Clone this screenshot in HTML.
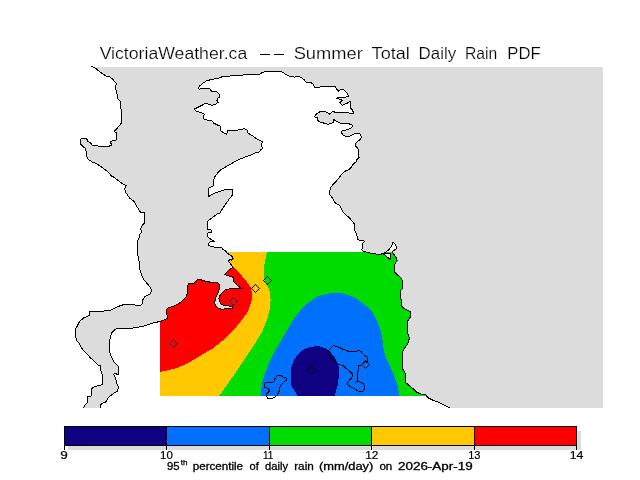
<!DOCTYPE html>
<html><head><meta charset="utf-8"><style>
html,body{margin:0;padding:0;background:#fff;width:640px;height:480px;overflow:hidden}
svg{display:block}
text{font-family:"Liberation Sans", sans-serif}
</style></head><body>
<svg width="640" height="480" viewBox="0 0 640 480">
<defs>
<clipPath id="cf"><rect x="0" y="67" width="603" height="341"/></clipPath>
<clipPath id="cl"><rect x="0" y="66" width="603" height="342"/></clipPath>
<clipPath id="cc"><rect x="160" y="252" width="300" height="144"/></clipPath>
</defs>
<rect width="640" height="480" fill="#fff"/>
<g clip-path="url(#cc)" shape-rendering="crispEdges">
<rect x="160" y="252" width="300" height="144" fill="#00dc00"/>
<path d="M160,252 L266.9,252 L265.6,258.75 L264.4,265 L263.9,274 L264.25,277.75 L266.5,284.5 L269.1,289 L270.25,294.25 L270.6,300.25 L270.25,305.5 L269.5,310 L267.5,318.5 L262.5,331 L255,343.5 L245,358.5 L235,373.5 L226.25,386 L219,396 L160,396 Z" fill="#ffc800"/>
<path d="M160,252 L222,252 L228,262 L233.75,267.5 L237.5,271.25 L240.25,274 L245.5,280 L248.75,284.5 L250.75,287.5 L251.9,292.75 L251.6,300.25 L250,305.5 L248.5,310 L246.5,314 L243.75,317.25 L239.5,323 L235,328.5 L225,338.5 L212.5,348.5 L200,356 L187.5,363.5 L175,368.5 L165,371 L160,371.75 Z" fill="#ff0000"/>
<path d="M261,396 L261.3,388 L262.5,382 L264.5,375 L268.75,363.5 L275,351 L282,339 L289,327 L296,316 L305,305 L317.5,296.5 L330,293.25 L342.5,293.25 L355,297.5 L365,305 L372.5,312.5 L377.5,322 L380.5,330 L382.5,340 L383.75,350 L386,358 L390,366 L393.75,375 L397.5,385 L399.5,396 Z" fill="#0070ff"/>
<path d="M316.25,346.25 L320,346.5 L325.25,348.3 L329.6,351.4 L333.1,355.3 L336.2,360.1 L338.4,364.5 L338.8,369.75 L338.8,377 L338.2,382 L337.5,386 L336,391 L334.5,396 L297,396 L296,392.5 L294.5,390.5 L292.8,388.5 L291,384.75 L290.6,379 L290.5,373.5 L291.2,368 L292.5,363.75 L294.5,359 L297.5,355 L300,352 L305,348.75 L310,347 Z" fill="#100082"/>
<path d="M383.5,254 L390.3,253.2 L390.6,259.8 Z" fill="#fff" stroke="#000" stroke-width="1"/>
</g>
<path clip-path="url(#cf)" d="M91,66 L95,67.75 L98.75,70.9 L102.5,73.75 L106.25,76.25 L109.4,76.5 L112.5,79 L116.25,83.4 L115.6,88.4 L116.9,94 L118.1,99 L120,101.25 L120.6,106.5 L121.25,110.25 L121.5,123 L118.25,126.9 L114.5,131.25 L116.4,133.1 L116.4,140 L113.25,140.6 L110.5,141.5 L111.4,145 L108.9,146.25 L99.5,146.25 L92,145 L90.75,143.1 L87.6,141.25 L86.75,138.75 L82.6,138.5 L80.1,139.4 L80.5,143.75 L83.25,146.9 L85.1,148.1 L86,151.25 L86.4,156.25 L88.25,159.4 L92,161.9 L96.4,163.75 L100.75,166.25 L104.5,169.4 L108.9,172.5 L110.75,175.6 L114.5,177.5 L118.75,181 L123.1,184.1 L126.25,185.4 L124.75,188.5 L125.6,192.25 L130,198.5 L133.75,201 L136.9,206.6 L140.6,212.25 L144.4,212.5 L144,217.25 L144.4,222.9 L141.9,226 L140.6,229.1 L141.9,232.25 L140,233.9 L139.4,237.6 L137.5,240.75 L137.75,247 L137.5,252 L138.5,258.9 L140,265.1 L139.75,268.9 L141.5,274.5 L143.75,279.5 L146.9,283.25 L150,287 L151.6,290.7 L150,293.8 L144.6,296.9 L142.7,300.1 L142.2,304 L139.9,305.5 L132.8,304.75 L124.25,304.4 L119.6,306 L110.2,310.2 L103.9,311 L89.9,311 L89.1,315.7 L83.6,318 L79.7,321.2 L77.4,325.8 L75.5,329 L75,334.4 L76.6,340.7 L78.9,343 L81.3,347.7 L83.6,350.8 L87.5,354.75 L91.4,358.7 L94,361 L97.75,365 L100.5,365.4 L100.25,368.5 L101.5,372.25 L102.5,376 L102.5,384.75 L99,385.4 L92.75,387.25 L91.75,389.1 L91.5,396 L87.75,396.6 L87.5,402.25 L85.9,404.1 L83.4,407.5 L82.5,410 L82,412 L101,412 L100.25,410 L100.25,408 L100.5,404.75 L102.75,403.25 L106.5,401.6 L107.75,398.5 L110.25,396 L113.4,393.5 L117.75,391 L118.4,387.25 L117.1,384.1 L115.9,379.75 L114.6,376 L113.4,374.5 L115.25,373.5 L118.4,374.75 L118.75,366.6 L116.5,364.75 L113.4,361 L110.2,354.75 L109.4,348.5 L109.9,339.1 L111.75,332.9 L114.9,329.75 L118,328.2 L121.1,329 L130.5,328.5 L136.75,327.4 L143,326.3 L149.25,324.3 L155,322.5 L160,321.5 L163.75,320 L168.1,318.1 L166.9,315 L166.25,310 L168.75,307.5 L173.75,306.25 L178.75,303.75 L183.1,300 L186.25,296.9 L187.5,292.5 L188.1,283.75 L190.6,283.1 L193.75,283.75 L195.6,281.25 L197.5,279.4 L200.6,279.75 L205,281 L210,282.1 L217.5,282.6 L219.4,284.4 L219.8,288.2 L218.4,291.9 L217,294.75 L215.6,298.5 L214.7,302.25 L215.2,305 L217.5,307.9 L222.2,309.3 L225.5,308.8 L232.5,309 L233.25,307.9 L232.5,306.5 L228.75,306 L224.1,305.5 L220.8,303.7 L219.4,301.3 L218.9,298.5 L219.8,295.7 L222.2,292.9 L225,290 L229.7,288.7 L237.2,288.2 L241.4,288.2 L237.5,285.6 L234.4,282.5 L233.1,280 L233.75,277.5 L230.6,276.25 L226.9,275.6 L225,274.4 L226.25,272.75 L228.75,270 L231.9,268.1 L232.75,267.5 L231.25,265 L230,263.1 L228.5,261.25 L229.4,259.75 L231.25,260.1 L233.1,259 L232.75,256.75 L230.1,255.25 L226.75,252.6 L225.6,250.75 L222.6,249.6 L221.9,247.6 L214.75,247.15 L211,246.25 L208.75,245.5 L208.4,243.6 L210.25,241.75 L212.5,241 L215.1,241.4 L211.75,239.9 L209.1,238 L207.25,236.1 L208,232.75 L211.4,232.4 L211,230.1 L207.4,229 L207.25,225.4 L207.75,221 L211.25,218.5 L216.9,214.1 L220,212.9 L221.9,209.75 L225.6,204.1 L230,197.9 L232.75,194.75 L232.5,189.75 L230.6,189.1 L226.25,189.1 L221.25,191 L216.9,192.25 L211.25,194.75 L208.5,196.6 L208.5,193.5 L208.1,188.5 L210.6,187.25 L213.1,186 L213.5,181 L214.4,177.25 L216.6,174.25 L219.75,170.5 L226,166.75 L233.5,162.4 L239.75,159.25 L246,156.75 L251,154.9 L254.75,153 L259.75,151.75 L260.4,149.9 L262.25,148.6 L261.6,144.9 L262.25,141.75 L258.5,139.9 L254.75,137.4 L251,134.9 L247.9,133 L247,129.9 L244.1,128.6 L239.75,129.9 L233.5,130.25 L227.9,130.5 L226.6,134.25 L222.9,132.4 L220.4,130.5 L220,126.1 L217.25,124.9 L213.5,123 L212.25,121.1 L208.5,120.5 L204.1,119.25 L203.1,117.25 L204.4,114.1 L201.25,112.5 L195.6,111 L194.4,109.1 L198.1,107.25 L202.5,105 L205.6,103.25 L208.1,104.1 L211.9,105.4 L215.6,104.1 L218.1,102.25 L216.9,100.4 L217.5,98.75 L219.75,96.6 L218.75,93.5 L216.25,91.6 L211.25,91 L210,88.75 L206.25,88.5 L199.4,89.1 L198.1,88.25 L199.4,86.25 L202.5,83.5 L206.25,81 L211.25,79.5 L217.5,78.5 L222.5,76.6 L237.5,75.4 L251.25,74.5 L256,74.25 L259.75,74 L262.25,72.5 L265.4,71.5 L280.4,71.5 L283.5,72.75 L286,74.6 L289.1,76.1 L294.75,77.1 L298.5,76.25 L301.6,77.75 L304.1,79.6 L306,82.1 L311,82.75 L313.5,84.25 L314.2,86.6 L314.75,87.1 L335.3,86.75 L336.7,89.4 L338.6,91.25 L340,89.8 L342.8,89.2 L345.6,91.25 L347.5,93.6 L348.4,96.4 L347,96.9 L338.1,97.6 L336.7,98.3 L340,99.2 L342.3,100.2 L339.8,102.5 L341.4,104.6 L342.8,105.3 L345.6,103.9 L348.4,102.5 L350.3,101.4 L350.8,108.1 L352.7,110.5 L353.6,113.3 L350.3,113.3 L345.6,112.3 L341.9,112.8 L337.2,112.8 L332.5,111.4 L329.7,114.2 L327.8,112.8 L325,111.4 L320.3,111.4 L318.4,112.8 L315.6,114.7 L314.7,117 L317,117.5 L318.4,121.7 L322.8,122.8 L327.5,124.2 L330.8,123.7 L333.1,122.3 L333.6,119.5 L335,120.4 L338.75,122.3 L340.2,123.25 L347.7,123.25 L352.3,125.1 L351.9,127.5 L348.1,129.3 L345.3,130.3 L342.5,130.3 L341.1,131.7 L342.5,134.5 L345.3,136.4 L349.1,136.4 L352.8,134.5 L354.7,133.4 L359.8,133.4 L361.25,136.4 L360.8,139.2 L358.4,140.6 L356.6,142.5 L355.2,144.3 L355.6,146.2 L357.5,148.1 L358.4,149.5 L358.7,156.7 L359.6,157.4 L357.25,158.6 L356.5,161.4 L354.4,163.25 L352.6,165.1 L351.6,167 L349.3,169.3 L346.9,170.3 L344.1,171.7 L341.3,174.5 L339.9,176.8 L337.6,179.2 L335.7,182 L333.3,184.3 L331,187.2 L330.1,189.5 L329.5,192 L329.4,194.3 L332.2,197.6 L334.5,202.3 L336.4,203.7 L339.7,205.6 L341.1,208.4 L342.5,211.2 L345.3,214.5 L348.1,216.6 L350.5,219.2 L352.8,222 L354.7,224.3 L354.7,230.4 L356.6,233.75 L357.5,238.9 L359.4,240.3 L362.2,240.1 L364.5,241.25 L362.7,243.1 L362.2,248.75 L361.25,249.7 L364.1,251.6 L370.2,253 L375.3,253.9 L380,254.6 L385.2,252.5 L389.4,249.2 L391.7,245.9 L393.1,242.2 L395.9,245 L396.4,248.75 L393.6,250.6 L392.2,252 L394,254.4 L395.9,257.2 L397.3,260.5 L395,263.75 L394.1,267.5 L394.5,271.25 L394.75,272.3 L397.6,275.2 L400.8,277.5 L402.25,280.3 L402.7,288.3 L400.8,290.2 L400.6,298.1 L401.5,300 L401.8,306.1 L404.1,308.4 L407.9,310.3 L408.1,310.9 L410.5,311.4 L410.5,317 L408.6,319.4 L407.7,321.25 L407.2,328.75 L407.7,332.5 L409.25,338.1 L408.6,341.9 L406.7,345.2 L404.4,348.4 L403,351.25 L402.5,355 L402.5,368.75 L405,372.5 L405.6,382.5 L409.4,385.6 L413.1,388.75 L416.25,391.9 L420,393.75 L426.25,395 L427.5,397.5 L432.5,400 L437.5,401.9 L443.75,405 L448.75,407.5 L452,410 L452,412 L610,412 L610,60 L91,60 Z" fill="#dcdcdc"/>
<path clip-path="url(#cl)" d="M91,66 L95,67.75 L98.75,70.9 L102.5,73.75 L106.25,76.25 L109.4,76.5 L112.5,79 L116.25,83.4 L115.6,88.4 L116.9,94 L118.1,99 L120,101.25 L120.6,106.5 L121.25,110.25 L121.5,123 L118.25,126.9 L114.5,131.25 L116.4,133.1 L116.4,140 L113.25,140.6 L110.5,141.5 L111.4,145 L108.9,146.25 L99.5,146.25 L92,145 L90.75,143.1 L87.6,141.25 L86.75,138.75 L82.6,138.5 L80.1,139.4 L80.5,143.75 L83.25,146.9 L85.1,148.1 L86,151.25 L86.4,156.25 L88.25,159.4 L92,161.9 L96.4,163.75 L100.75,166.25 L104.5,169.4 L108.9,172.5 L110.75,175.6 L114.5,177.5 L118.75,181 L123.1,184.1 L126.25,185.4 L124.75,188.5 L125.6,192.25 L130,198.5 L133.75,201 L136.9,206.6 L140.6,212.25 L144.4,212.5 L144,217.25 L144.4,222.9 L141.9,226 L140.6,229.1 L141.9,232.25 L140,233.9 L139.4,237.6 L137.5,240.75 L137.75,247 L137.5,252 L138.5,258.9 L140,265.1 L139.75,268.9 L141.5,274.5 L143.75,279.5 L146.9,283.25 L150,287 L151.6,290.7 L150,293.8 L144.6,296.9 L142.7,300.1 L142.2,304 L139.9,305.5 L132.8,304.75 L124.25,304.4 L119.6,306 L110.2,310.2 L103.9,311 L89.9,311 L89.1,315.7 L83.6,318 L79.7,321.2 L77.4,325.8 L75.5,329 L75,334.4 L76.6,340.7 L78.9,343 L81.3,347.7 L83.6,350.8 L87.5,354.75 L91.4,358.7 L94,361 L97.75,365 L100.5,365.4 L100.25,368.5 L101.5,372.25 L102.5,376 L102.5,384.75 L99,385.4 L92.75,387.25 L91.75,389.1 L91.5,396 L87.75,396.6 L87.5,402.25 L85.9,404.1 L83.4,407.5 L82.5,410 L82,412 L101,412 L100.25,410 L100.25,408 L100.5,404.75 L102.75,403.25 L106.5,401.6 L107.75,398.5 L110.25,396 L113.4,393.5 L117.75,391 L118.4,387.25 L117.1,384.1 L115.9,379.75 L114.6,376 L113.4,374.5 L115.25,373.5 L118.4,374.75 L118.75,366.6 L116.5,364.75 L113.4,361 L110.2,354.75 L109.4,348.5 L109.9,339.1 L111.75,332.9 L114.9,329.75 L118,328.2 L121.1,329 L130.5,328.5 L136.75,327.4 L143,326.3 L149.25,324.3 L155,322.5 L160,321.5 L163.75,320 L168.1,318.1 L166.9,315 L166.25,310 L168.75,307.5 L173.75,306.25 L178.75,303.75 L183.1,300 L186.25,296.9 L187.5,292.5 L188.1,283.75 L190.6,283.1 L193.75,283.75 L195.6,281.25 L197.5,279.4 L200.6,279.75 L205,281 L210,282.1 L217.5,282.6 L219.4,284.4 L219.8,288.2 L218.4,291.9 L217,294.75 L215.6,298.5 L214.7,302.25 L215.2,305 L217.5,307.9 L222.2,309.3 L225.5,308.8 L232.5,309 L233.25,307.9 L232.5,306.5 L228.75,306 L224.1,305.5 L220.8,303.7 L219.4,301.3 L218.9,298.5 L219.8,295.7 L222.2,292.9 L225,290 L229.7,288.7 L237.2,288.2 L241.4,288.2 L237.5,285.6 L234.4,282.5 L233.1,280 L233.75,277.5 L230.6,276.25 L226.9,275.6 L225,274.4 L226.25,272.75 L228.75,270 L231.9,268.1 L232.75,267.5 L231.25,265 L230,263.1 L228.5,261.25 L229.4,259.75 L231.25,260.1 L233.1,259 L232.75,256.75 L230.1,255.25 L226.75,252.6 L225.6,250.75 L222.6,249.6 L221.9,247.6 L214.75,247.15 L211,246.25 L208.75,245.5 L208.4,243.6 L210.25,241.75 L212.5,241 L215.1,241.4 L211.75,239.9 L209.1,238 L207.25,236.1 L208,232.75 L211.4,232.4 L211,230.1 L207.4,229 L207.25,225.4 L207.75,221 L211.25,218.5 L216.9,214.1 L220,212.9 L221.9,209.75 L225.6,204.1 L230,197.9 L232.75,194.75 L232.5,189.75 L230.6,189.1 L226.25,189.1 L221.25,191 L216.9,192.25 L211.25,194.75 L208.5,196.6 L208.5,193.5 L208.1,188.5 L210.6,187.25 L213.1,186 L213.5,181 L214.4,177.25 L216.6,174.25 L219.75,170.5 L226,166.75 L233.5,162.4 L239.75,159.25 L246,156.75 L251,154.9 L254.75,153 L259.75,151.75 L260.4,149.9 L262.25,148.6 L261.6,144.9 L262.25,141.75 L258.5,139.9 L254.75,137.4 L251,134.9 L247.9,133 L247,129.9 L244.1,128.6 L239.75,129.9 L233.5,130.25 L227.9,130.5 L226.6,134.25 L222.9,132.4 L220.4,130.5 L220,126.1 L217.25,124.9 L213.5,123 L212.25,121.1 L208.5,120.5 L204.1,119.25 L203.1,117.25 L204.4,114.1 L201.25,112.5 L195.6,111 L194.4,109.1 L198.1,107.25 L202.5,105 L205.6,103.25 L208.1,104.1 L211.9,105.4 L215.6,104.1 L218.1,102.25 L216.9,100.4 L217.5,98.75 L219.75,96.6 L218.75,93.5 L216.25,91.6 L211.25,91 L210,88.75 L206.25,88.5 L199.4,89.1 L198.1,88.25 L199.4,86.25 L202.5,83.5 L206.25,81 L211.25,79.5 L217.5,78.5 L222.5,76.6 L237.5,75.4 L251.25,74.5 L256,74.25 L259.75,74 L262.25,72.5 L265.4,71.5 L280.4,71.5 L283.5,72.75 L286,74.6 L289.1,76.1 L294.75,77.1 L298.5,76.25 L301.6,77.75 L304.1,79.6 L306,82.1 L311,82.75 L313.5,84.25 L314.2,86.6 L314.75,87.1 L335.3,86.75 L336.7,89.4 L338.6,91.25 L340,89.8 L342.8,89.2 L345.6,91.25 L347.5,93.6 L348.4,96.4 L347,96.9 L338.1,97.6 L336.7,98.3 L340,99.2 L342.3,100.2 L339.8,102.5 L341.4,104.6 L342.8,105.3 L345.6,103.9 L348.4,102.5 L350.3,101.4 L350.8,108.1 L352.7,110.5 L353.6,113.3 L350.3,113.3 L345.6,112.3 L341.9,112.8 L337.2,112.8 L332.5,111.4 L329.7,114.2 L327.8,112.8 L325,111.4 L320.3,111.4 L318.4,112.8 L315.6,114.7 L314.7,117 L317,117.5 L318.4,121.7 L322.8,122.8 L327.5,124.2 L330.8,123.7 L333.1,122.3 L333.6,119.5 L335,120.4 L338.75,122.3 L340.2,123.25 L347.7,123.25 L352.3,125.1 L351.9,127.5 L348.1,129.3 L345.3,130.3 L342.5,130.3 L341.1,131.7 L342.5,134.5 L345.3,136.4 L349.1,136.4 L352.8,134.5 L354.7,133.4 L359.8,133.4 L361.25,136.4 L360.8,139.2 L358.4,140.6 L356.6,142.5 L355.2,144.3 L355.6,146.2 L357.5,148.1 L358.4,149.5 L358.7,156.7 L359.6,157.4 L357.25,158.6 L356.5,161.4 L354.4,163.25 L352.6,165.1 L351.6,167 L349.3,169.3 L346.9,170.3 L344.1,171.7 L341.3,174.5 L339.9,176.8 L337.6,179.2 L335.7,182 L333.3,184.3 L331,187.2 L330.1,189.5 L329.5,192 L329.4,194.3 L332.2,197.6 L334.5,202.3 L336.4,203.7 L339.7,205.6 L341.1,208.4 L342.5,211.2 L345.3,214.5 L348.1,216.6 L350.5,219.2 L352.8,222 L354.7,224.3 L354.7,230.4 L356.6,233.75 L357.5,238.9 L359.4,240.3 L362.2,240.1 L364.5,241.25 L362.7,243.1 L362.2,248.75 L361.25,249.7 L364.1,251.6 L370.2,253 L375.3,253.9 L380,254.6 L385.2,252.5 L389.4,249.2 L391.7,245.9 L393.1,242.2 L395.9,245 L396.4,248.75 L393.6,250.6 L392.2,252 L394,254.4 L395.9,257.2 L397.3,260.5 L395,263.75 L394.1,267.5 L394.5,271.25 L394.75,272.3 L397.6,275.2 L400.8,277.5 L402.25,280.3 L402.7,288.3 L400.8,290.2 L400.6,298.1 L401.5,300 L401.8,306.1 L404.1,308.4 L407.9,310.3 L408.1,310.9 L410.5,311.4 L410.5,317 L408.6,319.4 L407.7,321.25 L407.2,328.75 L407.7,332.5 L409.25,338.1 L408.6,341.9 L406.7,345.2 L404.4,348.4 L403,351.25 L402.5,355 L402.5,368.75 L405,372.5 L405.6,382.5 L409.4,385.6 L413.1,388.75 L416.25,391.9 L420,393.75 L426.25,395 L427.5,397.5 L432.5,400 L437.5,401.9 L443.75,405 L448.75,407.5 L452,410 L452,412 L610,412 L610,60 L91,60 Z" fill="none" stroke="#000" stroke-width="1" shape-rendering="crispEdges"/>
<g fill="none" stroke="#000" stroke-width="1" shape-rendering="crispEdges">
<path d="M276.6,376 L278.2,375.4 L280.7,375.4 L281.6,376.3 L283.5,377.25 L286.3,378.2 L286.3,380.4 L284.4,381.3 L282.9,382.9 L281.3,384.75 L279.75,387.75 L279.4,390.25 L278.5,393 L276.6,395.25 L274.75,397.1 L272.6,398.4 L267.25,398 L266.3,395.25 L266.3,394.75 L267.25,393.2 L269.1,391.3 L269.1,389.4 L267.9,388.2 L264.75,387.25 L264.4,384.1 L265.4,382.6 L272.6,382.6 L274.1,380.7 L274.75,378.8 Z"/>
<path d="M328.3,350.5 L333.6,345.25 L335.3,346.3 L338.4,347 L341.9,348.75 L345.4,350.1 L348,351.2 L356.75,351.2 L359.4,350.3 L361.6,352.25 L363.75,354.9 L367.25,357.1 L367.7,361 L366.8,362.3 L365.5,361 L363.75,362.75 L361.1,365 L358.5,365.8 L358.9,367.6 L358.1,370.6 L357.6,372.75 L357.6,381.1 L354.5,383.2 L357.6,381.1 L360.6,382.4 L363.25,383.7 L364.6,385.9 L364.6,388.5 L362.8,391.1 L359.3,391.6 L356.25,389.8 L351.9,387.6 L347.5,384.6 L347.9,382.4 L352.3,376.7 L352.3,373.6 L347.5,369.7 L343.1,365.75 L338.75,364.4 L334,360.6 L331.4,358 L329.6,354 Z"/>
<path d="M173.5,339.5 L177.5,343.5 L173.5,347.5 L169.5,343.5 ZM233.5,297.5 L237.5,301.5 L233.5,305.5 L229.5,301.5 ZM255.5,284.5 L259.5,288.5 L255.5,292.5 L251.5,288.5 ZM267.5,276.5 L271.5,280.5 L267.5,284.5 L263.5,280.5 ZM311.5,366.5 L315.5,370.5 L311.5,374.5 L307.5,370.5 ZM365.5,360.5 L369.5,364.5 L365.5,368.5 L361.5,364.5 Z"/>
</g>
<!-- colorbar -->
<g shape-rendering="crispEdges">
<rect x="68" y="431" width="513" height="19" fill="#dcdcdc"/>
<rect x="64.5" y="426.5" width="102" height="19" fill="#100082"/>
<rect x="166.5" y="426.5" width="103" height="19" fill="#0070ff"/>
<rect x="269.5" y="426.5" width="102" height="19" fill="#00dc00"/>
<rect x="371.5" y="426.5" width="103" height="19" fill="#ffc800"/>
<rect x="474.5" y="426.5" width="102" height="19" fill="#ff0000"/>
<g stroke="#000" stroke-width="1" fill="none">
<rect x="64.5" y="426.5" width="512" height="19"/>
<path d="M166.5,426 V450 M269.5,426 V450 M371.5,426 V450 M474.5,426 V450 M64.5,445 V450 M576.5,445 V450"/>
</g>
</g>

<g fill="#000" style="will-change:transform"><text x="99.67" y="59" font-size="16.5" textLength="147.58" lengthAdjust="spacingAndGlyphs" stroke="#fff" stroke-width="0.2">VictoriaWeather.ca</text>
<text x="293.67" y="59" font-size="16.5" textLength="69.13" lengthAdjust="spacingAndGlyphs" stroke="#fff" stroke-width="0.2">Summer</text>
<text x="371.61" y="59" font-size="16.5" textLength="38.29" lengthAdjust="spacingAndGlyphs" stroke="#fff" stroke-width="0.2">Total</text>
<text x="418.61" y="59" font-size="16.5" textLength="37.67" lengthAdjust="spacingAndGlyphs" stroke="#fff" stroke-width="0.2">Daily</text>
<text x="464.96" y="59" font-size="16.5" textLength="32.31" lengthAdjust="spacingAndGlyphs" stroke="#fff" stroke-width="0.2">Rain</text>
<text x="507.38" y="59" font-size="16.5" textLength="33.28" lengthAdjust="spacingAndGlyphs" stroke="#fff" stroke-width="0.2">PDF</text>
<rect x="260" y="54" width="10" height="1"/><rect x="274" y="54" width="10" height="1"/>
<text x="166.97" y="470" font-size="10" textLength="12.50" lengthAdjust="spacingAndGlyphs" stroke="#000" stroke-width="0.3">95</text>
<text x="192.75" y="470" font-size="10" textLength="50.26" lengthAdjust="spacingAndGlyphs" stroke="#000" stroke-width="0.3">percentile</text>
<text x="249.54" y="470" font-size="10" textLength="9.20" lengthAdjust="spacingAndGlyphs" stroke="#000" stroke-width="0.3">of</text>
<text x="265.13" y="470" font-size="10" textLength="22.89" lengthAdjust="spacingAndGlyphs" stroke="#000" stroke-width="0.3">daily</text>
<text x="294.22" y="470" font-size="10" textLength="19.54" lengthAdjust="spacingAndGlyphs" stroke="#000" stroke-width="0.3">rain</text>
<text x="318.95" y="470" font-size="10" textLength="54.35" lengthAdjust="spacingAndGlyphs" stroke="#000" stroke-width="0.3">(mm/day)</text>
<text x="379.41" y="470" font-size="10" textLength="12.94" lengthAdjust="spacingAndGlyphs" stroke="#000" stroke-width="0.3">on</text>
<text x="398.02" y="470" font-size="10" textLength="74.61" lengthAdjust="spacingAndGlyphs" stroke="#000" stroke-width="0.3">2026-Apr-19</text>
<text x="180.88" y="465" font-size="7" textLength="6.64" lengthAdjust="spacingAndGlyphs" stroke="#000" stroke-width="0.25">th</text>
<text x="60.37" y="459" font-size="11" textLength="7.53" lengthAdjust="spacingAndGlyphs" stroke="#000" stroke-width="0.2">9</text>
<text x="160.12" y="459" font-size="11" textLength="12.83" lengthAdjust="spacingAndGlyphs" stroke="#000" stroke-width="0.2">10</text>
<text x="262.99" y="459" font-size="11" textLength="10.36" lengthAdjust="spacingAndGlyphs" stroke="#000" stroke-width="0.2">11</text>
<text x="365.20" y="459" font-size="11" textLength="13.20" lengthAdjust="spacingAndGlyphs" stroke="#000" stroke-width="0.2">12</text>
<text x="468.16" y="459" font-size="11" textLength="12.33" lengthAdjust="spacingAndGlyphs" stroke="#000" stroke-width="0.2">13</text>
<text x="569.66" y="459" font-size="11" textLength="13.70" lengthAdjust="spacingAndGlyphs" stroke="#000" stroke-width="0.2">14</text></g>
</svg>
</body></html>
